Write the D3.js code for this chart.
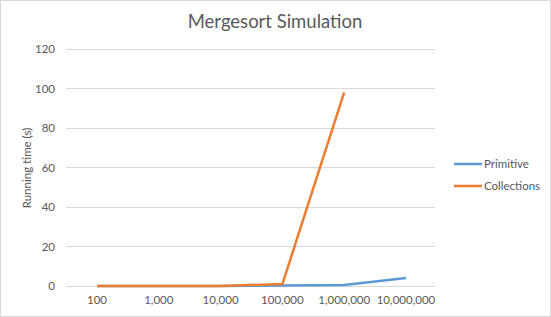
<!DOCTYPE html>
<html><head><meta charset="utf-8">
<script src="https://cdn.jsdelivr.net/npm/d3@7"></script>
<style>body{margin:0;background:#fff}svg{display:block}text{font-family:Lato,"Open Sans",sans-serif}</style>
</head><body><svg id="c" width="551" height="317"></svg>
<script>
const categories = ["100","1,000","10,000","100,000","1,000,000","10,000,000"];
const primitive = [0, 0, 0, 0.2, 0.5, 4];
const collections = [0, 0, 0, 1, 98, null];
const yTicks = [0,20,40,60,80,100,120];
const seriesNames = ["Primitive","Collections"];
const colors = ["#5B9BD5","#ED7D31"];

const svg = d3.select("#c");
svg.append("rect").attr("x",0.5).attr("y",0.5).attr("width",550).attr("height",316)
  .attr("fill","#fff").attr("stroke","#D9D9D9");

const x = d3.scalePoint().domain(categories).range([97,406]);
const y = d3.scaleLinear().domain([0,120]).range([286,49]);

const grid = svg.append("g");
yTicks.forEach(t=>{
  grid.append("line").attr("x1",66).attr("x2",435).attr("y1",y(t)).attr("y2",y(t))
    .attr("stroke","#D9D9D9").attr("stroke-width",1).attr("shape-rendering","crispEdges");
  grid.append("text").attr("x",55).attr("y",y(t)).attr("dy","0.35em").attr("text-anchor","end")
    .attr("font-size",11.5).attr("fill","#595959").text(t);
});
categories.forEach(c=>{
  svg.append("text").attr("x",x(c)).attr("y",304).attr("text-anchor","middle")
    .attr("font-size",11.5).attr("fill","#595959").text(c);
});

const vals = [primitive, collections];
const line = d3.line().defined(d=>d!=null).x((d,i)=>x(categories[i])).y(d=>y(d));
vals.forEach((v,k)=>{
  svg.append("path").datum(v).attr("d",line).attr("fill","none")
    .attr("stroke",colors[k]).attr("stroke-width",2.5).attr("stroke-linejoin","round");
});

svg.append("text").attr("x",275).attr("y",28).attr("text-anchor","middle")
  .attr("font-size",18.5).attr("fill","#595959").text("Mergesort Simulation");
svg.append("text").attr("transform","translate(31,168) rotate(-90)").attr("text-anchor","middle")
  .attr("font-size",11.5).attr("fill","#595959").text("Running time (s)");

seriesNames.forEach((n,k)=>{
  const ly = 164 + k*22;
  svg.append("line").attr("x1",454).attr("x2",482).attr("y1",ly).attr("y2",ly)
    .attr("stroke",colors[k]).attr("stroke-width",2.5);
  svg.append("text").attr("x",484).attr("y",ly).attr("dy","0.35em")
    .attr("font-size",11.5).attr("fill","#595959").text(n);
});
</script></body></html>
